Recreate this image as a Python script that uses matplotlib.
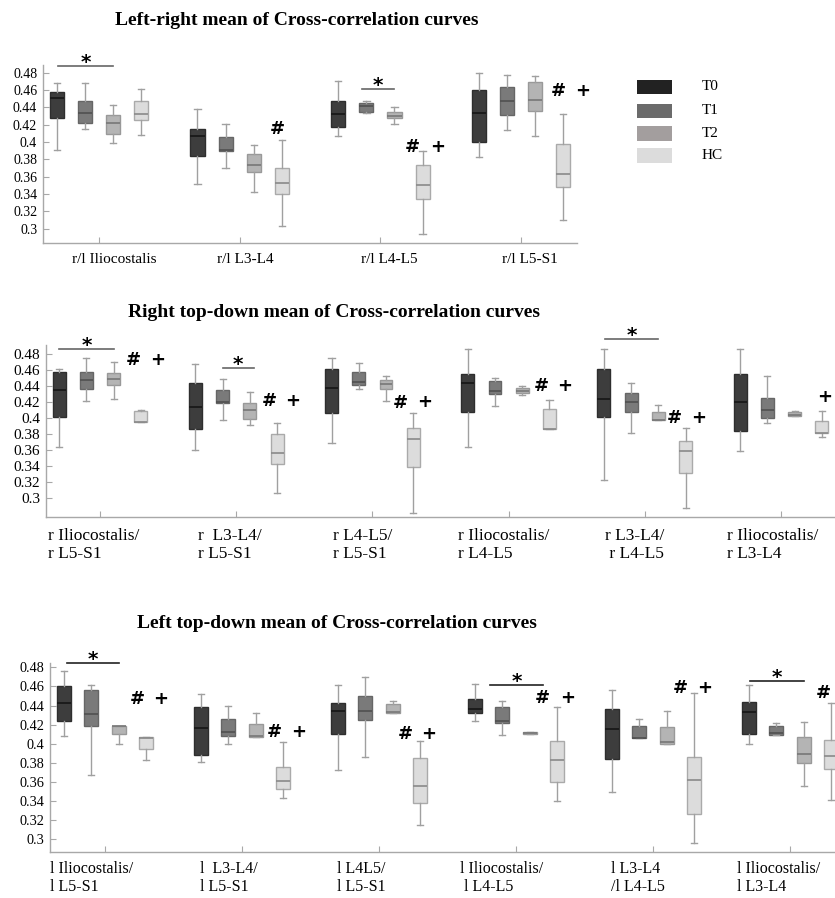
import matplotlib
matplotlib.use("Agg")
import matplotlib.pyplot as plt
from matplotlib.patches import Rectangle

plt.rcParams['font.family'] = ['Liberation Serif', 'DejaVu Serif']

W, H = 835, 898

SERIES = ["T0", "T1", "T2", "HC"]
FACE = ["#3d3d3d", "#7a7a7a", "#b4b4b4", "#dcdcdc"]
EDGE = ["#2e2e2e", "#666666", "#999999", "#aaaaaa"]
MEDIAN = ["#161616", "#505050", "#777777", "#8a8a8a"]
LEGEND_FACE = ["#222222", "#6b6b6b", "#a39e9e", "#dcdcdc"]

Y_TICKS = [0.3, 0.32, 0.34, 0.36, 0.38, 0.4, 0.42, 0.44, 0.46, 0.48]
Y_TICK_LABELS = ["0.3", "0.32", "0.34", "0.36", "0.38", "0.4", "0.42", "0.44", "0.46", "0.48"]

# ---- five-number summaries (min, q1, median, q3, max) ----
# Left-right mean
LR_LABELS = ["r/l Iliocostalis", "r/l L3-L4", "r/l L4-L5", "r/l L5-S1"]
LR_T0 = [(0.391, 0.4273, 0.4504, 0.458, 0.4677), (0.3515, 0.3838, 0.4073, 0.415, 0.4377),
         (0.4069, 0.4173, 0.432, 0.4473, 0.4708), (0.3831, 0.400, 0.4331, 0.460, 0.480)]
LR_T1 = [(0.415, 0.4223, 0.433, 0.4473, 0.4685), (0.3696, 0.390, 0.3905, 0.4054, 0.4204),
         (0.434, 0.4346, 0.4415, 0.4446, 0.447), (0.4138, 0.4315, 0.4473, 0.4638, 0.4773)]
LR_T2 = [(0.3992, 0.4088, 0.4215, 0.4315, 0.443), (0.3423, 0.3654, 0.3738, 0.3858, 0.3962),
         (0.4208, 0.4273, 0.4304, 0.4346, 0.44), (0.4073, 0.4354, 0.448, 0.4692, 0.4762)]
LR_HC = [(0.4085, 0.425, 0.4323, 0.4469, 0.4608), (0.3035, 0.3396, 0.3523, 0.3696, 0.4019),
         (0.2935, 0.3338, 0.35, 0.3735, 0.3892), (0.3104, 0.3477, 0.3635, 0.3977, 0.4327)]

# Right top-down mean
RT_LABELS = ["r Iliocostalis/\nr L5-S1", "r  L3-L4/\nr L5-S1", "r L4-L5/\nr L5-S1",
             "r Iliocostalis/\nr L4-L5", "r L3-L4/\n r L4-L5", "r Iliocostalis/\nr L3-L4"]
RT_T0 = [(0.3646, 0.4021, 0.4358, 0.4579, 0.4621), (0.3604, 0.3871, 0.4138, 0.4446, 0.4675),
         (0.3688, 0.4071, 0.4379, 0.4621, 0.475), (0.3646, 0.4079, 0.4438, 0.455, 0.4863),
         (0.3229, 0.4017, 0.4242, 0.4621, 0.4871), (0.3592, 0.3838, 0.4204, 0.4554, 0.4863)]
RT_T1 = [(0.4221, 0.4371, 0.4475, 0.4575, 0.475), (0.3979, 0.4196, 0.4204, 0.435, 0.4492),
         (0.4371, 0.4417, 0.4454, 0.4575, 0.4696), (0.4158, 0.43, 0.4338, 0.4471, 0.4508),
         (0.3821, 0.4083, 0.4200, 0.4313, 0.4446), (0.3938, 0.4004, 0.41, 0.4254, 0.4525)]
RT_T2 = [(0.4238, 0.4413, 0.4488, 0.4567, 0.4704), (0.3913, 0.3988, 0.41, 0.4188, 0.4329),
         (0.4213, 0.4363, 0.4425, 0.4483, 0.4525), (0.4296, 0.4313, 0.4346, 0.4379, 0.44),
         (0.3979, 0.3979, 0.3985, 0.4079, 0.4171), (0.4033, 0.4033, 0.4038, 0.4075, 0.4096)]
RT_HC = [(0.395, 0.395, 0.3955, 0.4096, 0.41), (0.3063, 0.3425, 0.3563, 0.3808, 0.3938),
         (0.2813, 0.3396, 0.3738, 0.3875, 0.4071), (0.3863, 0.3863, 0.3865, 0.4113, 0.4225),
         (0.2883, 0.3313, 0.3588, 0.3713, 0.3879), (0.3771, 0.3813, 0.3815, 0.3963, 0.4096)]

# Left top-down mean
LT_LABELS = ["l Iliocostalis/\nl L5-S1", "l  L3-L4/\nl L5-S1", "l L4L5/\nl L5-S1",
             "l Iliocostalis/\n l L4-L5", "l L3-L4\n/l L4-L5", "l Iliocostalis/\nl L3-L4"]
LT_T0 = [(0.4081, 0.4235, 0.443, 0.4608, 0.4761), (0.3809, 0.3882, 0.4161, 0.4388, 0.4517),
         (0.3729, 0.4102, 0.4343, 0.443, 0.4615), (0.4242, 0.4318, 0.4361, 0.4465, 0.4622),
         (0.3498, 0.384, 0.4151, 0.4364, 0.4563), (0.4001, 0.4102, 0.4332, 0.4441, 0.4612)]
LT_T1 = [(0.367, 0.4189, 0.431, 0.4562, 0.4615), (0.4001, 0.4085, 0.412, 0.4259, 0.4399),
         (0.3861, 0.4249, 0.4343, 0.4503, 0.4695), (0.4092, 0.4221, 0.4242, 0.4381, 0.4451),
         (0.4057, 0.4057, 0.4062, 0.4186, 0.4263), (0.4095, 0.4095, 0.4109, 0.4186, 0.4214)]
LT_T2 = [(0.3994, 0.4099, 0.4186, 0.4189, 0.4189), (0.4074, 0.4074, 0.408, 0.4203, 0.4319),
         (0.4325, 0.4325, 0.433, 0.4416, 0.4447), (0.4102, 0.4102, 0.4113, 0.4123, 0.4123),
         (0.3994, 0.3994, 0.4015, 0.4172, 0.4339), (0.3561, 0.3799, 0.3893, 0.4067, 0.4231)]
LT_HC = [(0.383, 0.3942, 0.4065, 0.4074, 0.4074), (0.3436, 0.353, 0.3607, 0.3753, 0.4018),
         (0.3149, 0.3383, 0.3557, 0.3847, 0.4032), (0.3405, 0.3597, 0.383, 0.4026, 0.4381),
         (0.2958, 0.3265, 0.362, 0.3858, 0.4528), (0.3411, 0.3732, 0.3868, 0.4039, 0.4423)]

# significance: brackets (group, from, to, level) and symbols (group, dx, level, symbol)
LR_BRACKETS = [(1, -0.29, 0.1, 0.488), (3, -0.13, 0.1, 0.4612)]
LR_MARKS = [(2, 0.27, 0.4146, "#"), (3, 0.227, 0.3938, "#"), (3, 0.405, 0.3938, "+"),
            (4, 0.263, 0.4588, "#"), (4, 0.434, 0.4588, "+")]
RT_BRACKETS = [(1, -0.3, 0.1, 0.4863), (2, -0.1, 0.13, 0.4625), (5, -0.29, 0.1, 0.4988)]
RT_MARKS = [(1, 0.242, 0.473, "#"), (1, 0.426, 0.473, "+"), (2, 0.242, 0.4217, "#"),
            (2, 0.411, 0.4217, "+"), (3, 0.206, 0.419, "#"), (3, 0.387, 0.4204, "+"),
            (4, 0.24, 0.4408, "#"), (4, 0.411, 0.4408, "+"), (5, 0.213, 0.40, "#"),
            (5, 0.396, 0.40, "+"), (6, 0.323, 0.4263, "+")]
LT_BRACKETS = [(1, -0.28, 0.1, 0.4849), (4, -0.19, 0.2, 0.4615), (6, -0.29, 0.1, 0.466)]
LT_MARKS = [(1, 0.234, 0.4465, "#"), (1, 0.409, 0.4465, "+"), (2, 0.234, 0.4126, "#"),
            (2, 0.416, 0.4126, "+"), (3, 0.19, 0.41, "#"), (3, 0.365, 0.41, "+"),
            (4, 0.195, 0.4482, "#"), (4, 0.374, 0.4482, "+"), (5, 0.197, 0.4587, "#"),
            (5, 0.38, 0.4587, "+"), (6, 0.246, 0.4535, "#")]

OFFSETS = [-0.3, -0.1, 0.1, 0.3]


def px_axes(fig, left, top, width, bottom):
    return fig.add_axes([left / W, 1 - bottom / H, width / W, (bottom - top) / H])


def draw_panel(ax, series, ylim, n, box_w, tick_size):
    for k, stats in enumerate(series):
        st = [dict(whislo=s[0], q1=s[1], med=s[2], q3=s[3], whishi=s[4], fliers=[])
              for s in stats]
        pos = [g + 1 + OFFSETS[k] for g in range(n)]
        ax.bxp(st, positions=pos, widths=box_w, patch_artist=True, showfliers=False,
               capwidths=0.045, manage_ticks=False,
               boxprops=dict(facecolor=FACE[k], edgecolor=EDGE[k], linewidth=1.0),
               medianprops=dict(color=MEDIAN[k], linewidth=1.2),
               whiskerprops=dict(color="#a0a0a0", linewidth=1.0),
               capprops=dict(color="#a0a0a0", linewidth=1.0))
    ax.set_xlim(0.6, n + 0.4)
    ax.set_ylim(*ylim)
    for s in ("top", "right"):
        ax.spines[s].set_visible(False)
    for s in ("left", "bottom"):
        ax.spines[s].set_color("#a8a8a8")
        ax.spines[s].set_linewidth(1.0)
    ax.set_yticks(Y_TICKS)
    ax.set_yticklabels(Y_TICK_LABELS)
    ax.set_xticks(range(1, n + 1))
    ax.set_xticklabels([""] * n)
    ax.tick_params(direction="in", length=4, color="#a8a8a8", labelsize=tick_size, pad=4)
    ax.patch.set_alpha(0)


def draw_sig(ax, brackets, marks, color):
    for g, a, b, lvl in brackets:
        ax.plot([g + a, g + b], [lvl, lvl], color=color, lw=1.2, clip_on=False)
        ax.annotate("*", xy=((g + a + g + b) / 2, lvl), xytext=(0, -1.5),
                    textcoords="offset points", ha="center", va="baseline",
                    fontsize=14.5, fontweight="bold", family="DejaVu Sans",
                    annotation_clip=False)
    for g, dx, lvl, sym in marks:
        ax.text(g + dx, lvl, sym, ha="center", va="center", fontsize=13,
                fontweight="bold", family="DejaVu Sans", clip_on=False)


fig = plt.figure(figsize=(W / 100, H / 100), dpi=100)

# --- left-right panel ---
ax1 = px_axes(fig, 42.7, 65, 534.7, 243)
draw_panel(ax1, [LR_T0, LR_T1, LR_T2, LR_HC], (0.2835, 0.4889), 4, 0.1, 10)
draw_sig(ax1, LR_BRACKETS, LR_MARKS, "#666666")
for i, (lab, dx) in enumerate(zip(LR_LABELS, [0.11, 0.04, 0.06, 0.06])):
    ax1.text(i + 1 + dx, -0.09, lab, transform=ax1.get_xaxis_transform(),
             ha="center", va="center", fontsize=11)
fig.text(297 / W, 1 - 25 / H, "Left-right mean of Cross-correlation curves",
         ha="center", va="baseline", fontsize=14, fontweight="bold")

# legend
for k, (name, col) in enumerate(zip(SERIES, LEGEND_FACE)):
    yc = [87, 111, 133.5, 155.5][k]
    fig.add_artist(Rectangle((637 / W, 1 - (yc + 7) / H), 35 / W, 14 / H,
                             transform=fig.transFigure, facecolor=col, edgecolor="none"))
    fig.text(702 / W, 1 - yc / H, name, ha="left", va="center", fontsize=11)

# --- right top-down panel ---
ax2 = px_axes(fig, 45.5, 345, 790, 516.7)
draw_panel(ax2, [RT_T0, RT_T1, RT_T2, RT_HC], (0.277, 0.4917), 6, 0.095, 11)
draw_sig(ax2, RT_BRACKETS, RT_MARKS, "#666666")
for i, (lab, dx) in enumerate(zip(RT_LABELS, [-0.38, -0.28, -0.29, -0.375, -0.29, -0.40])):
    ax2.text(i + 1 + dx, -(545 - 516.7) / 171.7, lab, transform=ax2.get_xaxis_transform(),
             ha="left", va="center", fontsize=12.5, linespacing=1.2)
fig.text(334 / W, 1 - 317 / H, "Right top-down mean of Cross-correlation curves",
         ha="center", va="baseline", fontsize=14, fontweight="bold")

# --- left top-down panel ---
ax3 = px_axes(fig, 50.2, 663.3, 794.6, 851.7)
draw_panel(ax3, [LT_T0, LT_T1, LT_T2, LT_HC], (0.287, 0.4842), 6, 0.1, 10.3)
draw_sig(ax3, LT_BRACKETS, LT_MARKS, "#222222")
for i, (lab, dx) in enumerate(zip(LT_LABELS, [-0.40, -0.31, -0.31, -0.41, -0.31, -0.39])):
    ax3.text(i + 1 + dx, -(878 - 851.7) / 188.4, lab, transform=ax3.get_xaxis_transform(),
             ha="left", va="center", fontsize=11.5, linespacing=1.1)
fig.text(337 / W, 1 - 628 / H, "Left top-down mean of Cross-correlation curves",
         ha="center", va="baseline", fontsize=14, fontweight="bold")

fig.savefig("out.png", dpi=100)
